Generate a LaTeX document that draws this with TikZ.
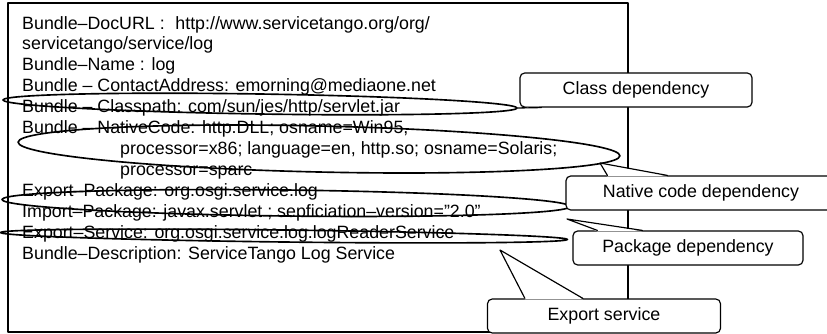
\documentclass[tikz,border=0pt]{standalone}
\usepackage{fontspec}
\setmainfont{Liberation Sans}
\usetikzlibrary{shapes.geometric,calc}

\begin{document}
\begin{tikzpicture}[x=0.03cm, y=-0.03cm, font=\fontsize{15.2}{18}\selectfont, line join=round, line cap=round]
	\def\px{0.03cm}
	\tikzset{
		txt/.style={anchor=base west, inner sep=0pt},
		ring/.style n args={3}{ellipse, draw, line width=1.4pt, inner sep=0pt, minimum width=#1*\px, minimum height=#2*\px, rotate=#3},
		note/.style={draw, fill=white, line width=1pt, rounded corners=4pt, minimum height=34*\px}
	}
	\clip (0,0) rectangle (827,334);
	% manifest
	\draw[line width=1.2pt] (8,3) rectangle (628,332);
	\node[txt] (l1) at (22,29) {Bundle--DocURL :\hspace{0.6em}http://www.servicetango.org/org/};
	\node[txt] (l2) at (22,49) {servicetango/service/log};
	\node[txt] (l3) at (22,70) {Bundle--Name : log};
	\node[txt] (l4) at (22,91) {Bundle -- ContactAddress: emorning@mediaone.net};
	\node[txt] (l5) at (22,112) {Bundle -- Classpath: com/sun/jes/http/servlet.jar};
	\node[txt] (l6) at (22,133) {Bundle -- NativeCode: http.DLL; osname=Win95,};
	\node[txt] (l7) at (120,154) {processor=x86; language=en, http.so; osname=Solaris;};
	\node[txt] (l8) at (120,175) {processor=sparc};
	\node[txt] (l9) at (22,196) {Export--Package: org.osgi.service.log};
	\node[txt] (l10) at (22,217) {Import--Package: javax.servlet ; sepficiation--version="2.0"};
	\node[txt] (l11) at (22,238) {Export--Service: org.osgi.service.log.logReaderService};
	\node[txt] (l12) at (22,259) {Bundle--Description: ServiceTango Log Service};
	% marked entries
	\node[ring={514}{20}{-0.9}] (cpell) at (260,104) {};
	\node[ring={602}{46}{-1.3}] (natell) at (319,149) {};
	\node[ring={568}{26}{-0.7}] (pkgell) at (286,203) {};
	\node[ring={567}{12}{-0.7}] (svcell) at (284,236) {};
	\coordinate (nattip) at (600,163);
	\coordinate (pkgtip) at (567,219);
	\coordinate (svctip) at (500,250);
	% callouts
	\node[note, minimum width=232*\px] (cpnote) at (636,90) {Class dependency};
	\node[note, minimum width=270*\px] (natnote) at (701,193) {Native code dependency};
	\node[note, minimum width=230*\px] (pkgnote) at (688,248) {Package dependency};
	\node[note, minimum width=233*\px] (svcnote) at (604,316) {Export service};
	% pointers: node/corner/from/to/tip/inset
	\foreach \n/\c/\a/\b/\p/\d in {cpnote/south west/7/22/cpell.east/-1, natnote/north west/42/102/nattip/1,
		pkgnote/north west/25/70/pkgtip/1, svcnote/north west/38/96/svctip/1}{
		\fill[white] ($(\n.\c)+(\a,\d)$) -- (\p) -- ($(\n.\c)+(\b,\d)$) -- cycle;
		\draw[line width=1pt] ($(\n.\c)+(\a,0)$) -- (\p) -- ($(\n.\c)+(\b,0)$);
	}
\end{tikzpicture}
\end{document}
